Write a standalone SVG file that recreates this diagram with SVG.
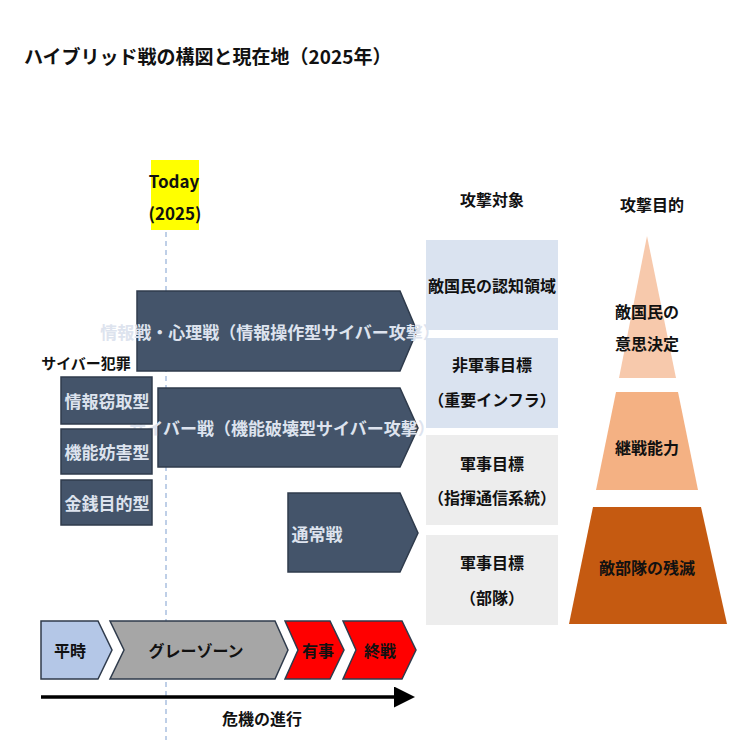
<svg xmlns="http://www.w3.org/2000/svg" width="740" height="740" viewBox="0 0 740 740">
<style>
text{font-family:"Noto Sans CJK JP","Liberation Sans",sans-serif;font-weight:bold;text-anchor:middle;dominant-baseline:central}
.w{fill:#dde3ee;font-size:17px}
.k{fill:#111;font-size:16px}
.nav{fill:#44546a;stroke:#2f3b4c;stroke-width:1.5}
</style>
<defs><marker id="ah" markerWidth="6" markerHeight="6" refX="4" refY="3" orient="auto" markerUnits="strokeWidth"><path d="M0,0L6,3L0,6z" fill="#000"/></marker></defs>
<rect width="740" height="740" fill="#fff"/>
<text x="24" y="55" style="text-anchor:start;font-size:19px" fill="#111">ハイブリッド戦の構図と現在地（2025年）</text>
<g id="today"><rect x="151" y="160" width="48" height="70" fill="#ffff00"/><text x="174" y="180" class="k" style="font-size:17px">Today</text><text x="175" y="212" class="k" style="font-size:17px">(2025)</text></g>
<g id="connectors"><line x1="166" y1="232" x2="166" y2="740" stroke="#7f9fcf" stroke-width="1" stroke-dasharray="5,4"/>
<line x1="41" y1="697" x2="408" y2="697" stroke="#000" stroke-width="3.5" marker-end="url(#ah)"/></g>
<g id="info"><path class="nav" d="M137,291H400L417,331L400,371H137z"/><text x="270" y="331" class="w">情報戦・心理戦（情報操作型サイバー攻撃）</text></g>
<g id="cyber"><path class="nav" d="M158,388H400L418,428L400,467H158z"/><text x="282" y="427" class="w">サイバー戦（機能破壊型サイバー攻撃）</text></g>
<g id="conv"><path class="nav" d="M288,493H400L418,533L400,572H288z"/><text x="317" y="533" class="w">通常戦</text></g>
<g id="crime"><text x="86" y="362" class="k" style="font-size:15px">サイバー犯罪</text>
<rect class="nav" x="61" y="377" width="91" height="47"/><text x="107" y="400" class="w">情報窃取型</text>
<rect class="nav" x="61" y="429" width="91" height="45"/><text x="107" y="451" class="w">機能妨害型</text>
<rect class="nav" x="61" y="480" width="91" height="45"/><text x="107" y="502" class="w">金銭目的型</text></g>
<g id="targets"><text x="492" y="199" class="k">攻撃対象</text>
<rect x="426" y="240" width="132" height="90" fill="#dae3f0"/><text x="492" y="285" class="k">敵国民の認知領域</text>
<rect x="426" y="338" width="132" height="90" fill="#dae3f0"/><text x="492" y="364" class="k">非軍事目標</text><text x="492" y="399" class="k">（重要インフラ）</text>
<rect x="426" y="435" width="132" height="90" fill="#ededed"/><text x="492" y="463" class="k">軍事目標</text><text x="492" y="497" class="k">（指揮通信系統）</text>
<rect x="426" y="535" width="132" height="90" fill="#ededed"/><text x="492" y="562" class="k">軍事目標</text><text x="492" y="597" class="k">（部隊）</text></g>
<g id="purpose"><text x="652" y="204" class="k">攻撃目的</text>
<path d="M647,236L676,378H619z" fill="#f7c9ac"/><text x="647" y="311" class="k">敵国民の</text><text x="647" y="343" class="k">意思決定</text>
<path d="M616,392H678L698,490H596z" fill="#f4b183"/><text x="647" y="447" class="k">継戦能力</text>
<path d="M593,507H701L727,624H569z" fill="#c55a11"/><text x="647" y="567" class="k">敵部隊の残滅</text></g>
<g id="phases">
<path d="M41,621H98L112,650L98,679H41z" fill="#b4c7e7" stroke="#2f3b4c" stroke-width="1.5"/><text x="70" y="650" class="k">平時</text>
<path d="M110,621H275L288,650L275,679H110L124,650z" fill="#a6a6a6" stroke="#2f3b4c" stroke-width="1.5"/><text x="196" y="650" class="k">グレーゾーン</text>
<path d="M285,621H330L344,650L330,679H285L298,650z" fill="#ff0000" stroke="#2f3b4c" stroke-width="1.5"/><text x="318" y="650" class="k">有事</text>
<path d="M343,621H402L416,650L402,679H343L356,650z" fill="#ff0000" stroke="#2f3b4c" stroke-width="1.5"/><text x="380" y="650" class="k">終戦</text></g>
<text x="262" y="718" class="k">危機の進行</text>
</svg>
